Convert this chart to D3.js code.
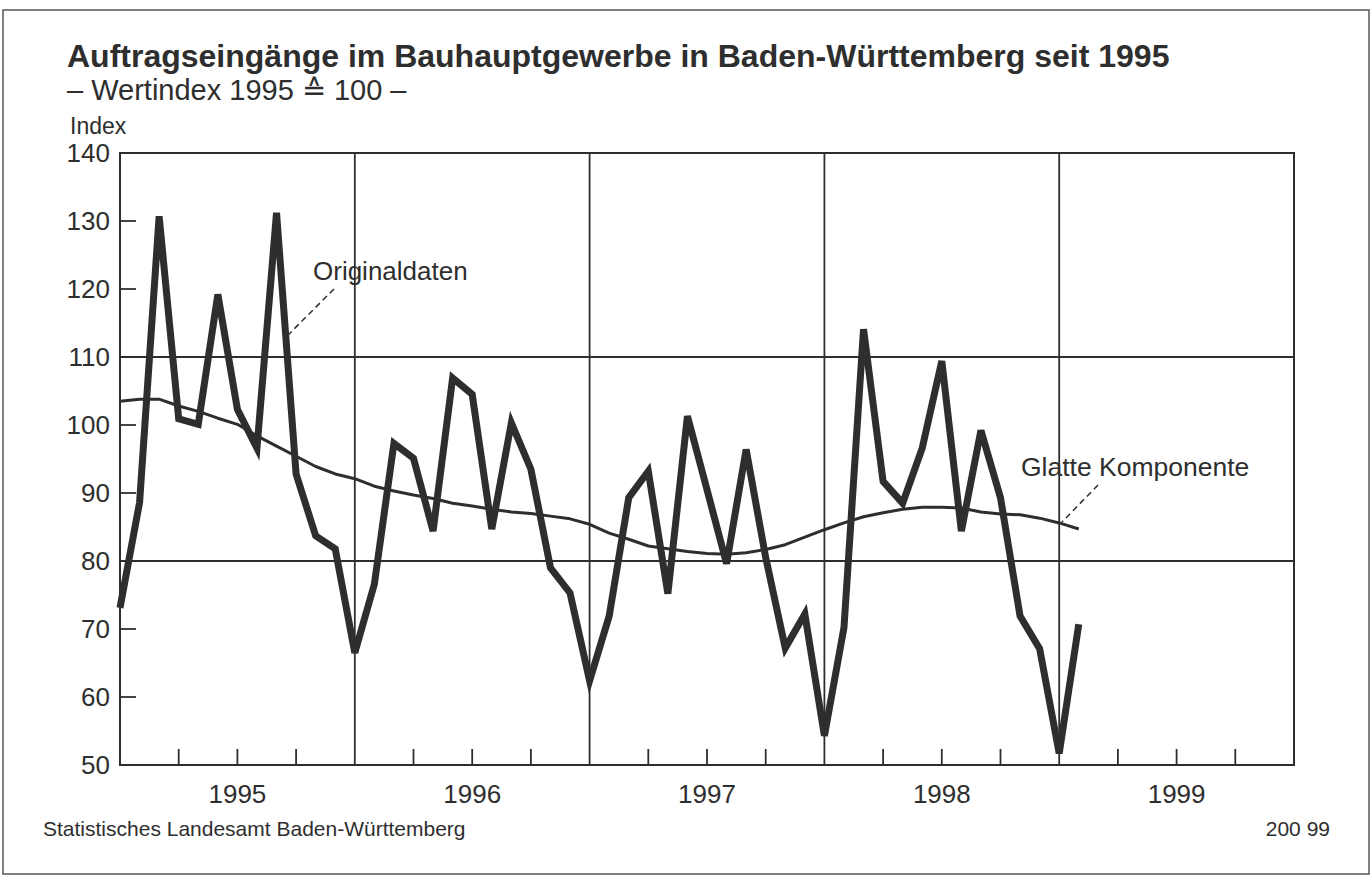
<!DOCTYPE html>
<html>
<head>
<meta charset="utf-8">
<script src="https://cdn.jsdelivr.net/npm/d3@7"></script>
<style>
  body { margin: 0; background: #fff; }
  svg { display: block; font-family: "Liberation Sans", Arial, sans-serif; }
</style>
</head>
<body>
<svg id="chart" width="1372" height="877"></svg>
<script>
// Jahre (Beschriftung der x-Achse)
var years = ['1995', '1996', '1997', '1998', '1999']

// Originaldaten, monatlich ab Januar 1995
var originalValues = [
  73.1, 88.6, 130.7, 100.9, 100.1, 119.2, 102.3, 96.6, 131.2, 92.8, 83.7, 81.8,
  66.5, 76.6, 97.3, 95.1, 84.4, 106.9, 104.5, 84.7, 100.3, 93.5, 79.0, 75.3,
  62.4, 71.9, 89.3, 93.2, 75.2, 101.3, 90.5, 79.6, 96.4, 80.5, 67.2, 72.2,
  54.3, 70.2, 114.1, 91.7, 88.5, 96.6, 109.4, 84.4, 99.2, 89.3, 71.9, 67.1,
  51.7, 70.7
]

// Glatte Komponente, monatlich ab Januar 1995
var smoothValues = [
  103.5, 103.8, 103.8, 102.8, 102.0, 101.0, 100.1, 98.4, 96.9, 95.4, 93.9, 92.8,
  92.1, 91.0, 90.3, 89.7, 89.2, 88.5, 88.1, 87.6, 87.2, 87.0, 86.6, 86.2,
  85.4, 84.1, 83.2, 82.2, 81.8, 81.4, 81.1, 81.0, 81.2, 81.7, 82.4, 83.5,
  84.6, 85.6, 86.5, 87.1, 87.6, 87.9, 87.9, 87.8, 87.2, 86.9, 86.8, 86.3,
  85.6, 84.7
]

// Skala der y-Achse
var yTicks = [50, 60, 70, 80, 90, 100, 110, 120, 130, 140]
var yGrid = [80, 110]

var plot = { left: 120, right: 1294, top: 153, bottom: 765 }
var ink = '#2e2e2e'

var svg = d3.select('#chart')

// Rahmen
svg.append('rect')
  .attr('x', 3).attr('y', 10)
  .attr('width', 1366).attr('height', 864)
  .attr('fill', 'none')
  .attr('stroke', '#555')
  .attr('stroke-width', 1.5)

var monthsTotal = years.length * 12
var xScale = d3.scaleLinear()
  .domain([0, monthsTotal])
  .range([plot.left, plot.right])

var yScale = d3.scaleLinear()
  .domain([50, 140])
  .range([plot.bottom, plot.top])

// Titel
svg.append('text')
  .attr('x', 67).attr('y', 67)
  .attr('font-size', 32)
  .attr('font-weight', 'bold')
  .attr('fill', ink)
  .text('Auftragseingänge im Bauhauptgewerbe in Baden-Württemberg seit 1995')

svg.append('text')
  .attr('x', 67).attr('y', 100)
  .attr('font-size', 29)
  .attr('fill', ink)
  .text('– Wertindex 1995 ≙ 100 –')

svg.append('text')
  .attr('x', 70).attr('y', 134)
  .attr('font-size', 23)
  .attr('fill', ink)
  .text('Index')

// Gitterlinien
var grid = svg.append('g').attr('stroke', ink).attr('stroke-width', 1.8)

grid.selectAll('.hgrid')
  .data(yGrid)
  .enter()
  .append('line')
  .attr('x1', plot.left).attr('x2', plot.right)
  .attr('y1', function (d) { return yScale(d) })
  .attr('y2', function (d) { return yScale(d) })

grid.selectAll('.vgrid')
  .data(d3.range(1, years.length))
  .enter()
  .append('line')
  .attr('x1', function (d) { return xScale(d * 12) })
  .attr('x2', function (d) { return xScale(d * 12) })
  .attr('y1', plot.top).attr('y2', plot.bottom)

// Quartalsmarken
var quarterTicks = []
years.forEach(function (y, i) {
  [3, 6, 9].forEach(function (m) { quarterTicks.push(i * 12 + m) })
})

grid.selectAll('.xtick')
  .data(quarterTicks)
  .enter()
  .append('line')
  .attr('x1', function (d) { return xScale(d) })
  .attr('x2', function (d) { return xScale(d) })
  .attr('y1', plot.bottom).attr('y2', plot.bottom - 16)

grid.selectAll('.ytick')
  .data(yTicks)
  .enter()
  .append('line')
  .attr('x1', plot.left).attr('x2', plot.left + 16)
  .attr('y1', function (d) { return yScale(d) })
  .attr('y2', function (d) { return yScale(d) })

// Achsenrahmen
svg.append('rect')
  .attr('x', plot.left).attr('y', plot.top)
  .attr('width', plot.right - plot.left)
  .attr('height', plot.bottom - plot.top)
  .attr('fill', 'none')
  .attr('stroke', ink)
  .attr('stroke-width', 2)

// Beschriftung y-Achse
svg.selectAll('.ylabel')
  .data(yTicks)
  .enter()
  .append('text')
  .attr('x', 110)
  .attr('y', function (d) { return yScale(d) })
  .attr('dy', '0.36em')
  .attr('text-anchor', 'end')
  .attr('font-size', 26)
  .attr('fill', ink)
  .text(function (d) { return d })

// Beschriftung x-Achse
svg.selectAll('.xlabel')
  .data(years)
  .enter()
  .append('text')
  .attr('x', function (d, i) { return xScale(i * 12 + 6) })
  .attr('y', 803)
  .attr('text-anchor', 'middle')
  .attr('font-size', 26)
  .attr('fill', ink)
  .text(function (d) { return d })

// Linien
var line = d3.line()
  .x(function (d, i) { return xScale(i) })
  .y(function (d) { return yScale(d) })

svg.append('path')
  .datum(smoothValues)
  .attr('d', line)
  .attr('fill', 'none')
  .attr('stroke', ink)
  .attr('stroke-width', 3)
  .attr('stroke-linejoin', 'round')

svg.append('path')
  .datum(originalValues)
  .attr('d', line)
  .attr('fill', 'none')
  .attr('stroke', ink)
  .attr('stroke-width', 7)
  .attr('stroke-linejoin', 'miter')

// Legenden-Beschriftungen mit Hinweislinien
svg.append('text')
  .attr('x', 313).attr('y', 280)
  .attr('font-size', 26)
  .attr('fill', ink)
  .text('Originaldaten')

svg.append('line')
  .attr('x1', 334).attr('y1', 289)
  .attr('x2', 287).attr('y2', 336)
  .attr('stroke', ink).attr('stroke-width', 1.5)
  .attr('stroke-dasharray', '6,4')

svg.append('text')
  .attr('x', 1021).attr('y', 476)
  .attr('font-size', 26.5)
  .attr('fill', ink)
  .text('Glatte Komponente')

svg.append('line')
  .attr('x1', 1098).attr('y1', 485)
  .attr('x2', 1062).attr('y2', 522)
  .attr('stroke', ink).attr('stroke-width', 1.5)
  .attr('stroke-dasharray', '6,4')

// Fußzeile
svg.append('text')
  .attr('x', 43).attr('y', 836)
  .attr('font-size', 21)
  .attr('fill', ink)
  .text('Statistisches Landesamt Baden-Württemberg')

svg.append('text')
  .attr('x', 1330).attr('y', 836)
  .attr('text-anchor', 'end')
  .attr('font-size', 21)
  .attr('fill', ink)
  .text('200 99')
</script>
</body>
</html>
